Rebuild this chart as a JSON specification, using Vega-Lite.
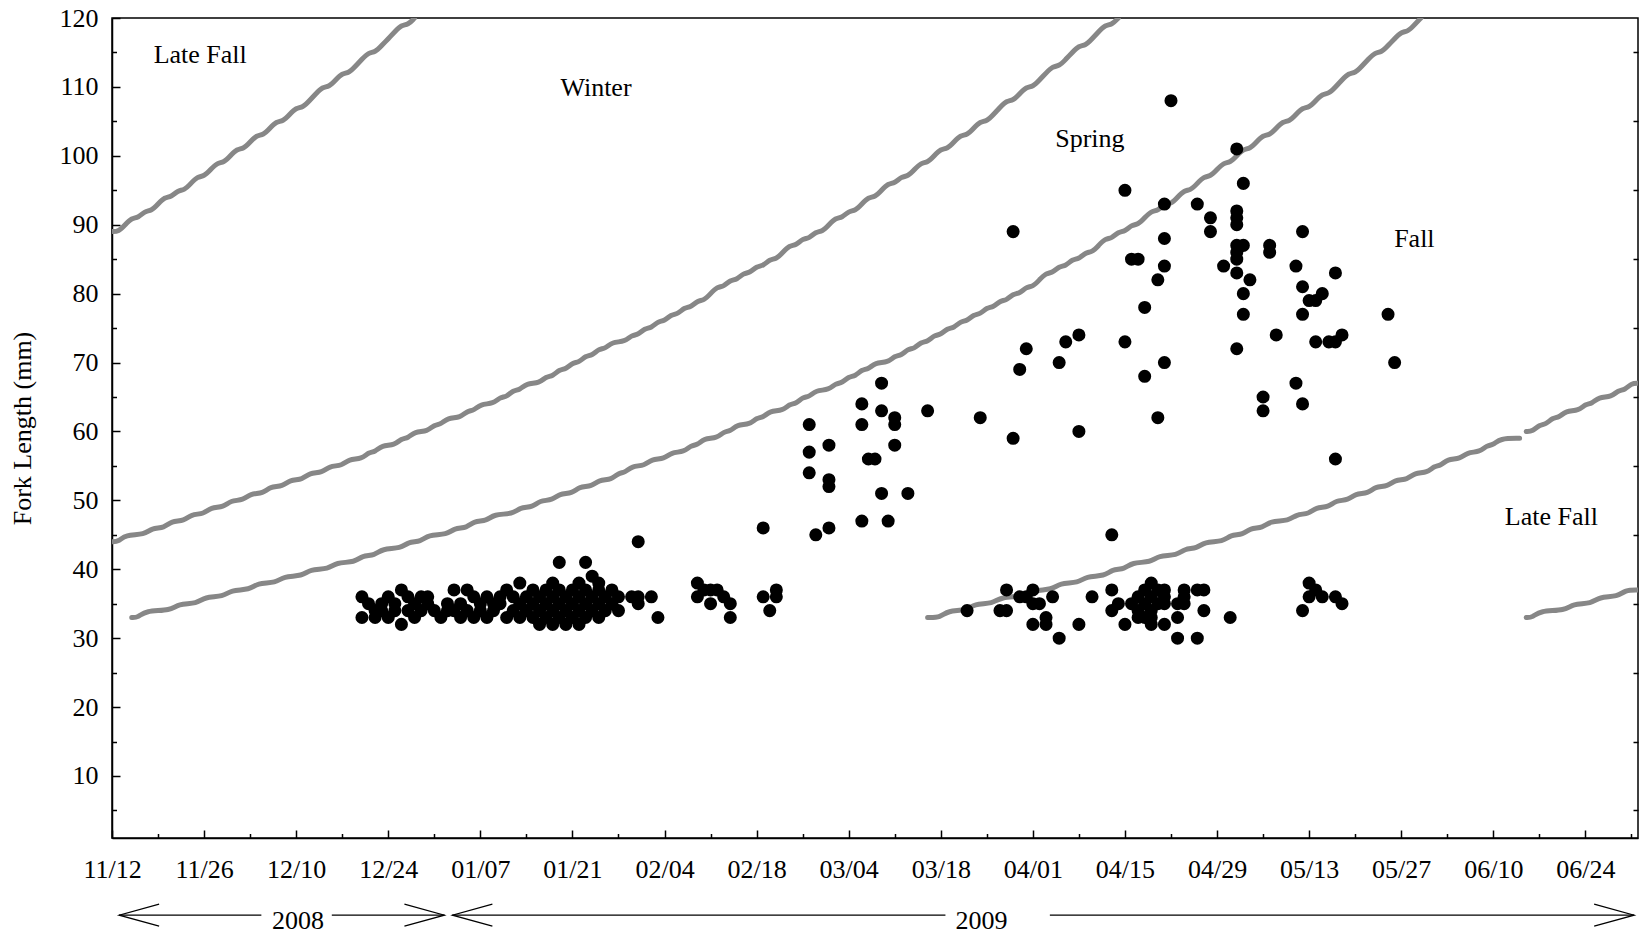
{
  "$schema": "https://vega.github.io/schema/vega-lite/v6.json",
  "width": 1526,
  "height": 820,
  "autosize": {"type": "none"},
  "padding": {"left": 112, "top": 18, "right": 3, "bottom": 99},
  "config": {
    "view": {"stroke": "black", "strokeWidth": 1.5},
    "font": "Liberation Serif",
    "text": {"font": "Liberation Serif"}
  },
  "datasets": {
    "curves": [
      {"curve":"c1","date":"2008-11-12","len":89},{"curve":"c1","date":"2008-11-13","len":89},{"curve":"c1","date":"2008-11-14","len":90},{"curve":"c1","date":"2008-11-15","len":91},{"curve":"c1","date":"2008-11-16","len":91},{"curve":"c1","date":"2008-11-17","len":92},{"curve":"c1","date":"2008-11-18","len":92},{"curve":"c1","date":"2008-11-19","len":93},{"curve":"c1","date":"2008-11-20","len":94},{"curve":"c1","date":"2008-11-21","len":94},{"curve":"c1","date":"2008-11-22","len":95},{"curve":"c1","date":"2008-11-23","len":95},{"curve":"c1","date":"2008-11-24","len":96},{"curve":"c1","date":"2008-11-25","len":97},{"curve":"c1","date":"2008-11-26","len":97},{"curve":"c1","date":"2008-11-27","len":98},{"curve":"c1","date":"2008-11-28","len":99},{"curve":"c1","date":"2008-11-29","len":99},{"curve":"c1","date":"2008-11-30","len":100},{"curve":"c1","date":"2008-12-01","len":101},{"curve":"c1","date":"2008-12-02","len":101},{"curve":"c1","date":"2008-12-03","len":102},{"curve":"c1","date":"2008-12-04","len":103},{"curve":"c1","date":"2008-12-05","len":103},{"curve":"c1","date":"2008-12-06","len":104},{"curve":"c1","date":"2008-12-07","len":105},{"curve":"c1","date":"2008-12-08","len":105},{"curve":"c1","date":"2008-12-09","len":106},{"curve":"c1","date":"2008-12-10","len":107},{"curve":"c1","date":"2008-12-11","len":107},{"curve":"c1","date":"2008-12-12","len":108},{"curve":"c1","date":"2008-12-13","len":109},{"curve":"c1","date":"2008-12-14","len":110},{"curve":"c1","date":"2008-12-15","len":110},{"curve":"c1","date":"2008-12-16","len":111},{"curve":"c1","date":"2008-12-17","len":112},{"curve":"c1","date":"2008-12-18","len":112},{"curve":"c1","date":"2008-12-19","len":113},{"curve":"c1","date":"2008-12-20","len":114},{"curve":"c1","date":"2008-12-21","len":115},{"curve":"c1","date":"2008-12-22","len":115},{"curve":"c1","date":"2008-12-23","len":116},{"curve":"c1","date":"2008-12-24","len":117},{"curve":"c1","date":"2008-12-25","len":118},{"curve":"c1","date":"2008-12-26","len":119},{"curve":"c1","date":"2008-12-27","len":119},{"curve":"c1","date":"2008-12-28","len":120},

      {"curve":"c2","date":"2008-11-12","len":44},{"curve":"c2","date":"2008-11-13","len":44},{"curve":"c2","date":"2008-11-14","len":45},{"curve":"c2","date":"2008-11-17","len":45},{"curve":"c2","date":"2008-11-18","len":46},{"curve":"c2","date":"2008-11-20","len":46},{"curve":"c2","date":"2008-11-21","len":47},{"curve":"c2","date":"2008-11-23","len":47},{"curve":"c2","date":"2008-11-24","len":48},{"curve":"c2","date":"2008-11-26","len":48},{"curve":"c2","date":"2008-11-27","len":49},{"curve":"c2","date":"2008-11-29","len":49},{"curve":"c2","date":"2008-11-30","len":50},{"curve":"c2","date":"2008-12-02","len":50},{"curve":"c2","date":"2008-12-03","len":51},{"curve":"c2","date":"2008-12-05","len":51},{"curve":"c2","date":"2008-12-06","len":52},{"curve":"c2","date":"2008-12-08","len":52},{"curve":"c2","date":"2008-12-09","len":53},{"curve":"c2","date":"2008-12-11","len":53},{"curve":"c2","date":"2008-12-12","len":54},{"curve":"c2","date":"2008-12-14","len":54},{"curve":"c2","date":"2008-12-15","len":55},{"curve":"c2","date":"2008-12-17","len":55},{"curve":"c2","date":"2008-12-18","len":56},{"curve":"c2","date":"2008-12-20","len":56},{"curve":"c2","date":"2008-12-21","len":57},{"curve":"c2","date":"2008-12-22","len":57},{"curve":"c2","date":"2008-12-23","len":58},{"curve":"c2","date":"2008-12-25","len":58},{"curve":"c2","date":"2008-12-26","len":59},{"curve":"c2","date":"2008-12-27","len":59},{"curve":"c2","date":"2008-12-28","len":60},{"curve":"c2","date":"2008-12-30","len":60},{"curve":"c2","date":"2008-12-31","len":61},{"curve":"c2","date":"2009-01-01","len":61},{"curve":"c2","date":"2009-01-02","len":62},{"curve":"c2","date":"2009-01-04","len":62},{"curve":"c2","date":"2009-01-05","len":63},{"curve":"c2","date":"2009-01-06","len":63},{"curve":"c2","date":"2009-01-07","len":64},{"curve":"c2","date":"2009-01-09","len":64},{"curve":"c2","date":"2009-01-10","len":65},{"curve":"c2","date":"2009-01-11","len":65},{"curve":"c2","date":"2009-01-12","len":66},{"curve":"c2","date":"2009-01-13","len":66},{"curve":"c2","date":"2009-01-14","len":67},{"curve":"c2","date":"2009-01-16","len":67},{"curve":"c2","date":"2009-01-17","len":68},{"curve":"c2","date":"2009-01-18","len":68},{"curve":"c2","date":"2009-01-19","len":69},{"curve":"c2","date":"2009-01-20","len":69},{"curve":"c2","date":"2009-01-21","len":70},{"curve":"c2","date":"2009-01-22","len":70},{"curve":"c2","date":"2009-01-23","len":71},{"curve":"c2","date":"2009-01-24","len":71},{"curve":"c2","date":"2009-01-25","len":72},{"curve":"c2","date":"2009-01-26","len":72},{"curve":"c2","date":"2009-01-27","len":73},{"curve":"c2","date":"2009-01-29","len":73},{"curve":"c2","date":"2009-01-30","len":74},{"curve":"c2","date":"2009-01-31","len":74},{"curve":"c2","date":"2009-02-01","len":75},{"curve":"c2","date":"2009-02-02","len":75},{"curve":"c2","date":"2009-02-03","len":76},{"curve":"c2","date":"2009-02-04","len":76},{"curve":"c2","date":"2009-02-05","len":77},{"curve":"c2","date":"2009-02-06","len":77},{"curve":"c2","date":"2009-02-07","len":78},{"curve":"c2","date":"2009-02-08","len":78},{"curve":"c2","date":"2009-02-09","len":79},{"curve":"c2","date":"2009-02-10","len":79},{"curve":"c2","date":"2009-02-11","len":80},{"curve":"c2","date":"2009-02-12","len":81},{"curve":"c2","date":"2009-02-13","len":81},{"curve":"c2","date":"2009-02-14","len":82},{"curve":"c2","date":"2009-02-15","len":82},{"curve":"c2","date":"2009-02-16","len":83},{"curve":"c2","date":"2009-02-17","len":83},{"curve":"c2","date":"2009-02-18","len":84},{"curve":"c2","date":"2009-02-19","len":84},{"curve":"c2","date":"2009-02-20","len":85},{"curve":"c2","date":"2009-02-21","len":85},{"curve":"c2","date":"2009-02-22","len":86},{"curve":"c2","date":"2009-02-23","len":87},{"curve":"c2","date":"2009-02-24","len":87},{"curve":"c2","date":"2009-02-25","len":88},{"curve":"c2","date":"2009-02-26","len":88},{"curve":"c2","date":"2009-02-27","len":89},{"curve":"c2","date":"2009-02-28","len":89},{"curve":"c2","date":"2009-03-01","len":90},{"curve":"c2","date":"2009-03-02","len":91},{"curve":"c2","date":"2009-03-03","len":91},{"curve":"c2","date":"2009-03-04","len":92},{"curve":"c2","date":"2009-03-05","len":92},{"curve":"c2","date":"2009-03-06","len":93},{"curve":"c2","date":"2009-03-07","len":94},{"curve":"c2","date":"2009-03-08","len":94},{"curve":"c2","date":"2009-03-09","len":95},{"curve":"c2","date":"2009-03-10","len":96},{"curve":"c2","date":"2009-03-11","len":96},{"curve":"c2","date":"2009-03-12","len":97},{"curve":"c2","date":"2009-03-13","len":97},{"curve":"c2","date":"2009-03-14","len":98},{"curve":"c2","date":"2009-03-15","len":99},{"curve":"c2","date":"2009-03-16","len":99},{"curve":"c2","date":"2009-03-17","len":100},{"curve":"c2","date":"2009-03-18","len":101},{"curve":"c2","date":"2009-03-19","len":101},{"curve":"c2","date":"2009-03-20","len":102},{"curve":"c2","date":"2009-03-21","len":103},{"curve":"c2","date":"2009-03-22","len":103},{"curve":"c2","date":"2009-03-23","len":104},{"curve":"c2","date":"2009-03-24","len":105},{"curve":"c2","date":"2009-03-25","len":105},{"curve":"c2","date":"2009-03-26","len":106},{"curve":"c2","date":"2009-03-27","len":107},{"curve":"c2","date":"2009-03-28","len":108},{"curve":"c2","date":"2009-03-29","len":108},{"curve":"c2","date":"2009-03-30","len":109},{"curve":"c2","date":"2009-03-31","len":110},{"curve":"c2","date":"2009-04-01","len":110},{"curve":"c2","date":"2009-04-02","len":111},{"curve":"c2","date":"2009-04-03","len":112},{"curve":"c2","date":"2009-04-04","len":113},{"curve":"c2","date":"2009-04-05","len":113},{"curve":"c2","date":"2009-04-06","len":114},{"curve":"c2","date":"2009-04-07","len":115},{"curve":"c2","date":"2009-04-08","len":116},{"curve":"c2","date":"2009-04-09","len":116},{"curve":"c2","date":"2009-04-10","len":117},{"curve":"c2","date":"2009-04-11","len":118},{"curve":"c2","date":"2009-04-12","len":119},{"curve":"c2","date":"2009-04-13","len":119},{"curve":"c2","date":"2009-04-14","len":120},

      {"curve":"c3","date":"2008-11-15","len":33},{"curve":"c3","date":"2008-11-16","len":33},{"curve":"c3","date":"2008-11-17","len":34},{"curve":"c3","date":"2008-11-21","len":34},{"curve":"c3","date":"2008-11-22","len":35},{"curve":"c3","date":"2008-11-25","len":35},{"curve":"c3","date":"2008-11-26","len":36},{"curve":"c3","date":"2008-11-29","len":36},{"curve":"c3","date":"2008-11-30","len":37},{"curve":"c3","date":"2008-12-03","len":37},{"curve":"c3","date":"2008-12-04","len":38},{"curve":"c3","date":"2008-12-07","len":38},{"curve":"c3","date":"2008-12-08","len":39},{"curve":"c3","date":"2008-12-11","len":39},{"curve":"c3","date":"2008-12-12","len":40},{"curve":"c3","date":"2008-12-15","len":40},{"curve":"c3","date":"2008-12-16","len":41},{"curve":"c3","date":"2008-12-19","len":41},{"curve":"c3","date":"2008-12-20","len":42},{"curve":"c3","date":"2008-12-22","len":42},{"curve":"c3","date":"2008-12-23","len":43},{"curve":"c3","date":"2008-12-26","len":43},{"curve":"c3","date":"2008-12-27","len":44},{"curve":"c3","date":"2008-12-29","len":44},{"curve":"c3","date":"2008-12-30","len":45},{"curve":"c3","date":"2009-01-02","len":45},{"curve":"c3","date":"2009-01-03","len":46},{"curve":"c3","date":"2009-01-05","len":46},{"curve":"c3","date":"2009-01-06","len":47},{"curve":"c3","date":"2009-01-08","len":47},{"curve":"c3","date":"2009-01-09","len":48},{"curve":"c3","date":"2009-01-12","len":48},{"curve":"c3","date":"2009-01-13","len":49},{"curve":"c3","date":"2009-01-15","len":49},{"curve":"c3","date":"2009-01-16","len":50},{"curve":"c3","date":"2009-01-18","len":50},{"curve":"c3","date":"2009-01-19","len":51},{"curve":"c3","date":"2009-01-21","len":51},{"curve":"c3","date":"2009-01-22","len":52},{"curve":"c3","date":"2009-01-24","len":52},{"curve":"c3","date":"2009-01-25","len":53},{"curve":"c3","date":"2009-01-27","len":53},{"curve":"c3","date":"2009-01-28","len":54},{"curve":"c3","date":"2009-01-29","len":54},{"curve":"c3","date":"2009-01-30","len":55},{"curve":"c3","date":"2009-02-01","len":55},{"curve":"c3","date":"2009-02-02","len":56},{"curve":"c3","date":"2009-02-04","len":56},{"curve":"c3","date":"2009-02-05","len":57},{"curve":"c3","date":"2009-02-07","len":57},{"curve":"c3","date":"2009-02-08","len":58},{"curve":"c3","date":"2009-02-09","len":58},{"curve":"c3","date":"2009-02-10","len":59},{"curve":"c3","date":"2009-02-12","len":59},{"curve":"c3","date":"2009-02-13","len":60},{"curve":"c3","date":"2009-02-14","len":60},{"curve":"c3","date":"2009-02-15","len":61},{"curve":"c3","date":"2009-02-17","len":61},{"curve":"c3","date":"2009-02-18","len":62},{"curve":"c3","date":"2009-02-19","len":62},{"curve":"c3","date":"2009-02-20","len":63},{"curve":"c3","date":"2009-02-22","len":63},{"curve":"c3","date":"2009-02-23","len":64},{"curve":"c3","date":"2009-02-24","len":64},{"curve":"c3","date":"2009-02-25","len":65},{"curve":"c3","date":"2009-02-26","len":65},{"curve":"c3","date":"2009-02-27","len":66},{"curve":"c3","date":"2009-03-01","len":66},{"curve":"c3","date":"2009-03-02","len":67},{"curve":"c3","date":"2009-03-03","len":67},{"curve":"c3","date":"2009-03-04","len":68},{"curve":"c3","date":"2009-03-05","len":68},{"curve":"c3","date":"2009-03-06","len":69},{"curve":"c3","date":"2009-03-07","len":69},{"curve":"c3","date":"2009-03-08","len":70},{"curve":"c3","date":"2009-03-10","len":70},{"curve":"c3","date":"2009-03-11","len":71},{"curve":"c3","date":"2009-03-12","len":71},{"curve":"c3","date":"2009-03-13","len":72},{"curve":"c3","date":"2009-03-14","len":72},{"curve":"c3","date":"2009-03-15","len":73},{"curve":"c3","date":"2009-03-16","len":73},{"curve":"c3","date":"2009-03-17","len":74},{"curve":"c3","date":"2009-03-18","len":74},{"curve":"c3","date":"2009-03-19","len":75},{"curve":"c3","date":"2009-03-20","len":75},{"curve":"c3","date":"2009-03-21","len":76},{"curve":"c3","date":"2009-03-22","len":76},{"curve":"c3","date":"2009-03-23","len":77},{"curve":"c3","date":"2009-03-24","len":77},{"curve":"c3","date":"2009-03-25","len":78},{"curve":"c3","date":"2009-03-26","len":78},{"curve":"c3","date":"2009-03-27","len":79},{"curve":"c3","date":"2009-03-28","len":79},{"curve":"c3","date":"2009-03-29","len":80},{"curve":"c3","date":"2009-03-30","len":80},{"curve":"c3","date":"2009-03-31","len":81},{"curve":"c3","date":"2009-04-01","len":81},{"curve":"c3","date":"2009-04-02","len":82},{"curve":"c3","date":"2009-04-03","len":83},{"curve":"c3","date":"2009-04-04","len":83},{"curve":"c3","date":"2009-04-05","len":84},{"curve":"c3","date":"2009-04-06","len":84},{"curve":"c3","date":"2009-04-07","len":85},{"curve":"c3","date":"2009-04-08","len":85},{"curve":"c3","date":"2009-04-09","len":86},{"curve":"c3","date":"2009-04-10","len":86},{"curve":"c3","date":"2009-04-11","len":87},{"curve":"c3","date":"2009-04-12","len":88},{"curve":"c3","date":"2009-04-13","len":88},{"curve":"c3","date":"2009-04-14","len":89},{"curve":"c3","date":"2009-04-15","len":89},{"curve":"c3","date":"2009-04-16","len":90},{"curve":"c3","date":"2009-04-17","len":90},{"curve":"c3","date":"2009-04-18","len":91},{"curve":"c3","date":"2009-04-19","len":92},{"curve":"c3","date":"2009-04-20","len":92},{"curve":"c3","date":"2009-04-21","len":93},{"curve":"c3","date":"2009-04-22","len":93},{"curve":"c3","date":"2009-04-23","len":94},{"curve":"c3","date":"2009-04-24","len":95},{"curve":"c3","date":"2009-04-25","len":95},{"curve":"c3","date":"2009-04-26","len":96},{"curve":"c3","date":"2009-04-27","len":97},{"curve":"c3","date":"2009-04-28","len":97},{"curve":"c3","date":"2009-04-29","len":98},{"curve":"c3","date":"2009-04-30","len":99},{"curve":"c3","date":"2009-05-01","len":99},{"curve":"c3","date":"2009-05-02","len":100},{"curve":"c3","date":"2009-05-03","len":101},{"curve":"c3","date":"2009-05-04","len":101},{"curve":"c3","date":"2009-05-05","len":102},{"curve":"c3","date":"2009-05-06","len":103},{"curve":"c3","date":"2009-05-07","len":103},{"curve":"c3","date":"2009-05-08","len":104},{"curve":"c3","date":"2009-05-09","len":105},{"curve":"c3","date":"2009-05-10","len":105},{"curve":"c3","date":"2009-05-11","len":106},{"curve":"c3","date":"2009-05-12","len":107},{"curve":"c3","date":"2009-05-13","len":107},{"curve":"c3","date":"2009-05-14","len":108},{"curve":"c3","date":"2009-05-15","len":109},{"curve":"c3","date":"2009-05-16","len":109},{"curve":"c3","date":"2009-05-17","len":110},{"curve":"c3","date":"2009-05-18","len":111},{"curve":"c3","date":"2009-05-19","len":112},{"curve":"c3","date":"2009-05-20","len":112},{"curve":"c3","date":"2009-05-21","len":113},{"curve":"c3","date":"2009-05-22","len":114},{"curve":"c3","date":"2009-05-23","len":115},{"curve":"c3","date":"2009-05-24","len":115},{"curve":"c3","date":"2009-05-25","len":116},{"curve":"c3","date":"2009-05-26","len":117},{"curve":"c3","date":"2009-05-27","len":118},{"curve":"c3","date":"2009-05-28","len":118},{"curve":"c3","date":"2009-05-29","len":119},{"curve":"c3","date":"2009-05-30","len":120},

      {"curve":"c4a","date":"2009-03-16","len":33},{"curve":"c4a","date":"2009-03-18","len":33},{"curve":"c4a","date":"2009-03-19","len":34},{"curve":"c4a","date":"2009-03-22","len":34},{"curve":"c4a","date":"2009-03-23","len":35},{"curve":"c4a","date":"2009-03-26","len":35},{"curve":"c4a","date":"2009-03-27","len":36},{"curve":"c4a","date":"2009-03-31","len":36},{"curve":"c4a","date":"2009-04-01","len":37},{"curve":"c4a","date":"2009-04-04","len":37},{"curve":"c4a","date":"2009-04-05","len":38},{"curve":"c4a","date":"2009-04-08","len":38},{"curve":"c4a","date":"2009-04-09","len":39},{"curve":"c4a","date":"2009-04-12","len":39},{"curve":"c4a","date":"2009-04-13","len":40},{"curve":"c4a","date":"2009-04-15","len":40},{"curve":"c4a","date":"2009-04-16","len":41},{"curve":"c4a","date":"2009-04-19","len":41},{"curve":"c4a","date":"2009-04-20","len":42},{"curve":"c4a","date":"2009-04-23","len":42},{"curve":"c4a","date":"2009-04-24","len":43},{"curve":"c4a","date":"2009-04-26","len":43},{"curve":"c4a","date":"2009-04-27","len":44},{"curve":"c4a","date":"2009-04-30","len":44},{"curve":"c4a","date":"2009-05-01","len":45},{"curve":"c4a","date":"2009-05-03","len":45},{"curve":"c4a","date":"2009-05-04","len":46},{"curve":"c4a","date":"2009-05-06","len":46},{"curve":"c4a","date":"2009-05-07","len":47},{"curve":"c4a","date":"2009-05-10","len":47},{"curve":"c4a","date":"2009-05-11","len":48},{"curve":"c4a","date":"2009-05-13","len":48},{"curve":"c4a","date":"2009-05-14","len":49},{"curve":"c4a","date":"2009-05-16","len":49},{"curve":"c4a","date":"2009-05-17","len":50},{"curve":"c4a","date":"2009-05-19","len":50},{"curve":"c4a","date":"2009-05-20","len":51},{"curve":"c4a","date":"2009-05-22","len":51},{"curve":"c4a","date":"2009-05-23","len":52},{"curve":"c4a","date":"2009-05-25","len":52},{"curve":"c4a","date":"2009-05-26","len":53},{"curve":"c4a","date":"2009-05-28","len":53},{"curve":"c4a","date":"2009-05-29","len":54},{"curve":"c4a","date":"2009-05-31","len":54},{"curve":"c4a","date":"2009-06-01","len":55},{"curve":"c4a","date":"2009-06-02","len":55},{"curve":"c4a","date":"2009-06-03","len":56},{"curve":"c4a","date":"2009-06-05","len":56},{"curve":"c4a","date":"2009-06-06","len":57},{"curve":"c4a","date":"2009-06-08","len":57},{"curve":"c4a","date":"2009-06-09","len":58},{"curve":"c4a","date":"2009-06-10","len":58},{"curve":"c4a","date":"2009-06-11","len":59},{"curve":"c4a","date":"2009-06-14","len":59},

      {"curve":"c4b","date":"2009-06-15","len":60},{"curve":"c4b","date":"2009-06-16","len":60},{"curve":"c4b","date":"2009-06-17","len":61},{"curve":"c4b","date":"2009-06-18","len":61},{"curve":"c4b","date":"2009-06-19","len":62},{"curve":"c4b","date":"2009-06-20","len":62},{"curve":"c4b","date":"2009-06-21","len":63},{"curve":"c4b","date":"2009-06-23","len":63},{"curve":"c4b","date":"2009-06-24","len":64},{"curve":"c4b","date":"2009-06-25","len":64},{"curve":"c4b","date":"2009-06-26","len":65},{"curve":"c4b","date":"2009-06-28","len":65},{"curve":"c4b","date":"2009-06-29","len":66},{"curve":"c4b","date":"2009-06-30","len":66},{"curve":"c4b","date":"2009-07-01","len":67},{"curve":"c4b","date":"2009-07-02","len":67},

      {"curve":"c5","date":"2009-06-15","len":33},{"curve":"c5","date":"2009-06-16","len":33},{"curve":"c5","date":"2009-06-17","len":34},{"curve":"c5","date":"2009-06-21","len":34},{"curve":"c5","date":"2009-06-22","len":35},{"curve":"c5","date":"2009-06-25","len":35},{"curve":"c5","date":"2009-06-26","len":36},{"curve":"c5","date":"2009-06-29","len":36},{"curve":"c5","date":"2009-06-30","len":37},{"curve":"c5","date":"2009-07-02","len":37}
    ],
    "fish": [
      {"date":"2008-12-20","len":36},{"date":"2008-12-20","len":33},{"date":"2008-12-21","len":35},{"date":"2008-12-22","len":34},{"date":"2008-12-22","len":33},{"date":"2008-12-23","len":35},{"date":"2008-12-23","len":34},{"date":"2008-12-24","len":36},{"date":"2008-12-24","len":33},{"date":"2008-12-25","len":35},{"date":"2008-12-25","len":34},{"date":"2008-12-26","len":37},{"date":"2008-12-26","len":32},{"date":"2008-12-27","len":36},{"date":"2008-12-27","len":34},{"date":"2008-12-28","len":35},{"date":"2008-12-28","len":33},{"date":"2008-12-29","len":36},{"date":"2008-12-29","len":34},{"date":"2008-12-30","len":36},{"date":"2008-12-30","len":35},{"date":"2008-12-31","len":34},{"date":"2009-01-01","len":33},{"date":"2009-01-02","len":35},{"date":"2009-01-02","len":34},{"date":"2009-01-03","len":37},{"date":"2009-01-03","len":34},{"date":"2009-01-04","len":35},{"date":"2009-01-04","len":33},{"date":"2009-01-05","len":37},{"date":"2009-01-05","len":34},{"date":"2009-01-06","len":36},{"date":"2009-01-06","len":33},{"date":"2009-01-07","len":35},{"date":"2009-01-07","len":34},{"date":"2009-01-08","len":36},{"date":"2009-01-08","len":33},{"date":"2009-01-09","len":35},{"date":"2009-01-09","len":34},{"date":"2009-01-10","len":36},{"date":"2009-01-10","len":35},{"date":"2009-01-11","len":37},{"date":"2009-01-11","len":33},{"date":"2009-01-12","len":36},{"date":"2009-01-12","len":34},{"date":"2009-01-13","len":38},{"date":"2009-01-13","len":35},{"date":"2009-01-13","len":33},{"date":"2009-01-14","len":36},{"date":"2009-01-14","len":34},{"date":"2009-01-15","len":37},{"date":"2009-01-15","len":35},{"date":"2009-01-15","len":33},{"date":"2009-01-16","len":36},{"date":"2009-01-16","len":34},{"date":"2009-01-16","len":32},{"date":"2009-01-17","len":37},{"date":"2009-01-17","len":35},{"date":"2009-01-17","len":33},{"date":"2009-01-18","len":38},{"date":"2009-01-18","len":36},{"date":"2009-01-18","len":34},{"date":"2009-01-18","len":32},{"date":"2009-01-19","len":41},{"date":"2009-01-19","len":37},{"date":"2009-01-19","len":35},{"date":"2009-01-19","len":33},{"date":"2009-01-20","len":36},{"date":"2009-01-20","len":34},{"date":"2009-01-20","len":32},{"date":"2009-01-21","len":37},{"date":"2009-01-21","len":35},{"date":"2009-01-21","len":33},{"date":"2009-01-22","len":38},{"date":"2009-01-22","len":36},{"date":"2009-01-22","len":34},{"date":"2009-01-22","len":32},{"date":"2009-01-23","len":41},{"date":"2009-01-23","len":37},{"date":"2009-01-23","len":35},{"date":"2009-01-23","len":33},{"date":"2009-01-24","len":39},{"date":"2009-01-24","len":36},{"date":"2009-01-24","len":34},{"date":"2009-01-25","len":38},{"date":"2009-01-25","len":37},{"date":"2009-01-25","len":35},{"date":"2009-01-25","len":33},{"date":"2009-01-26","len":36},{"date":"2009-01-26","len":34},{"date":"2009-01-27","len":35},{"date":"2009-01-27","len":37},{"date":"2009-01-28","len":36},{"date":"2009-01-28","len":34},
      {"date":"2009-01-30","len":36},{"date":"2009-01-31","len":36},{"date":"2009-01-31","len":35},{"date":"2009-01-31","len":44},{"date":"2009-02-02","len":36},{"date":"2009-02-03","len":33},
      {"date":"2009-02-09","len":38},{"date":"2009-02-09","len":36},{"date":"2009-02-10","len":37},{"date":"2009-02-11","len":37},{"date":"2009-02-12","len":37},{"date":"2009-02-11","len":35},{"date":"2009-02-13","len":36},{"date":"2009-02-14","len":35},{"date":"2009-02-14","len":33},
      {"date":"2009-02-19","len":36},{"date":"2009-02-21","len":37},{"date":"2009-02-21","len":36},{"date":"2009-02-20","len":34},{"date":"2009-02-19","len":46},
      {"date":"2009-03-09","len":67},{"date":"2009-03-06","len":64},{"date":"2009-03-09","len":63},{"date":"2009-03-11","len":62},{"date":"2009-03-16","len":63},{"date":"2009-03-11","len":61},{"date":"2009-02-26","len":61},{"date":"2009-03-06","len":61},{"date":"2009-03-01","len":58},{"date":"2009-02-26","len":57},{"date":"2009-03-11","len":58},{"date":"2009-03-07","len":56},{"date":"2009-03-08","len":56},{"date":"2009-02-26","len":54},{"date":"2009-03-01","len":53},{"date":"2009-03-01","len":52},{"date":"2009-03-09","len":51},{"date":"2009-03-13","len":51},{"date":"2009-03-06","len":47},{"date":"2009-03-10","len":47},{"date":"2009-03-01","len":46},{"date":"2009-02-27","len":45},
      {"date":"2009-04-22","len":108},{"date":"2009-05-02","len":101},{"date":"2009-04-15","len":95},{"date":"2009-03-29","len":89},{"date":"2009-04-21","len":93},{"date":"2009-05-03","len":96},{"date":"2009-04-26","len":93},{"date":"2009-04-28","len":91},{"date":"2009-04-28","len":89},{"date":"2009-05-02","len":92},{"date":"2009-05-02","len":91},{"date":"2009-05-02","len":90},{"date":"2009-05-02","len":87},{"date":"2009-05-03","len":87},{"date":"2009-05-02","len":86},{"date":"2009-05-02","len":85},{"date":"2009-04-30","len":84},{"date":"2009-05-02","len":83},{"date":"2009-05-04","len":82},{"date":"2009-05-03","len":80},{"date":"2009-05-03","len":77},{"date":"2009-05-07","len":87},{"date":"2009-05-07","len":86},{"date":"2009-05-12","len":89},{"date":"2009-05-11","len":84},{"date":"2009-05-12","len":81},{"date":"2009-05-13","len":79},{"date":"2009-05-14","len":79},{"date":"2009-05-15","len":80},{"date":"2009-05-12","len":77},{"date":"2009-05-17","len":83},{"date":"2009-05-08","len":74},{"date":"2009-05-14","len":73},{"date":"2009-05-16","len":73},{"date":"2009-05-17","len":73},{"date":"2009-05-18","len":74},{"date":"2009-05-02","len":72},{"date":"2009-04-16","len":85},{"date":"2009-04-17","len":85},{"date":"2009-04-21","len":88},{"date":"2009-04-21","len":84},{"date":"2009-04-20","len":82},{"date":"2009-04-18","len":78},{"date":"2009-04-15","len":73},{"date":"2009-04-21","len":70},{"date":"2009-04-18","len":68},{"date":"2009-03-31","len":72},{"date":"2009-03-30","len":69},{"date":"2009-04-06","len":73},{"date":"2009-04-08","len":74},{"date":"2009-04-05","len":70},{"date":"2009-05-11","len":67},{"date":"2009-05-25","len":77},{"date":"2009-05-26","len":70},{"date":"2009-05-12","len":64},{"date":"2009-05-17","len":56},{"date":"2009-03-24","len":62},{"date":"2009-03-29","len":59},{"date":"2009-04-08","len":60},{"date":"2009-04-20","len":62},{"date":"2009-05-06","len":65},{"date":"2009-05-06","len":63},{"date":"2009-04-13","len":45},
      {"date":"2009-03-22","len":34},{"date":"2009-03-28","len":37},{"date":"2009-04-01","len":37},{"date":"2009-03-27","len":34},{"date":"2009-03-28","len":34},{"date":"2009-03-30","len":36},{"date":"2009-03-31","len":36},{"date":"2009-04-01","len":35},{"date":"2009-04-02","len":35},{"date":"2009-04-04","len":36},{"date":"2009-04-03","len":33},{"date":"2009-04-01","len":32},{"date":"2009-04-03","len":32},{"date":"2009-04-05","len":30},{"date":"2009-04-08","len":32},{"date":"2009-04-10","len":36},{"date":"2009-04-13","len":37},{"date":"2009-04-14","len":35},{"date":"2009-04-13","len":34},{"date":"2009-04-19","len":38},{"date":"2009-04-16","len":35},{"date":"2009-04-17","len":36},{"date":"2009-04-18","len":37},{"date":"2009-04-19","len":36},{"date":"2009-04-20","len":37},{"date":"2009-04-21","len":37},{"date":"2009-04-21","len":36},{"date":"2009-04-17","len":34},{"date":"2009-04-18","len":35},{"date":"2009-04-19","len":34},{"date":"2009-04-20","len":35},{"date":"2009-04-21","len":35},{"date":"2009-04-18","len":33},{"date":"2009-04-19","len":33},{"date":"2009-04-15","len":32},{"date":"2009-04-17","len":33},{"date":"2009-04-19","len":32},{"date":"2009-04-21","len":32},{"date":"2009-04-24","len":37},{"date":"2009-04-26","len":37},{"date":"2009-04-27","len":37},{"date":"2009-04-23","len":35},{"date":"2009-04-24","len":35},{"date":"2009-04-24","len":36},{"date":"2009-04-27","len":34},{"date":"2009-04-23","len":33},{"date":"2009-04-23","len":30},{"date":"2009-04-26","len":30},{"date":"2009-05-01","len":33},{"date":"2009-05-13","len":38},{"date":"2009-05-14","len":37},{"date":"2009-05-15","len":36},{"date":"2009-05-13","len":36},{"date":"2009-05-12","len":34},{"date":"2009-05-17","len":36},{"date":"2009-05-18","len":35}
    ],
    "seasons": [
      {"label":"Late Fall","date":"2008-11-25T10:00:00Z","len":114.7},
      {"label":"Winter","date":"2009-01-24T14:00:00Z","len":109.8},
      {"label":"Spring","date":"2009-04-09T16:00:00Z","len":102.4},
      {"label":"Fall","date":"2009-05-29T00:00:00Z","len":88.0},
      {"label":"Late Fall","date":"2009-06-18T20:00:00Z","len":47.6}
    ],
    "years": [
      {"year":"2008","start":"2008-11-13T02:00:00Z","gapStart":"2008-12-04T17:00:00Z","mid":"2008-12-10T07:00:00Z","gapEnd":"2008-12-15T10:00:00Z","end":"2009-01-01T13:00:00Z"},
      {"year":"2009","start":"2009-01-02T18:00:00Z","gapStart":"2009-03-18T17:00:00Z","mid":"2009-03-24T05:00:00Z","gapEnd":"2009-04-03T14:00:00Z","end":"2009-07-01T10:00:00Z"}
    ]
  },
  "layer": [
    {
      "data": {"name": "curves"},
      "mark": {"type": "line", "color": "#878787", "strokeWidth": 5, "strokeCap": "round", "strokeJoin": "round", "interpolate": "basis", "clip": true},
      "encoding": {
        "x": {
          "field": "date", "type": "temporal",
          "scale": {"type": "utc", "domain": [{"year": 2008, "month": 11, "date": 12, "utc": true}, {"year": 2009, "month": 7, "date": 2, "utc": true}]},
          "axis": {
            "orient": "bottom", "title": null, "grid": false,
            "values": [1226448000000,1227657600000,1228867200000,1230076800000,1231286400000,1232496000000,1233705600000,1234915200000,1236124800000,1237334400000,1238544000000,1239753600000,1240963200000,1242172800000,1243382400000,1244592000000,1245801600000],
            "labelExpr": "utcFormat(datum.value, '%m/%d')",
            "tickSize": -8,
            "labelPadding": 26,
            "labelFlush": false, "labelOverlap": false, "labelBound": false,
            "domainColor": "black", "domainWidth": 1.5, "tickColor": "black", "tickWidth": 1.5,
            "labelFont": "Liberation Serif", "labelFontSize": 26, "labelColor": "black"
          }
        },
        "y": {
          "field": "len", "type": "quantitative",
          "scale": {"domain": [1, 120]},
          "axis": {
            "orient": "left",
            "title": "Fork Length (mm)",
            "titleFont": "Liberation Serif", "titleFontSize": 26, "titleFontWeight": "normal", "titleColor": "black", "titlePadding": 24,
            "grid": false,
            "values": [10,20,30,40,50,60,70,80,90,100,110,120],
            "tickSize": -8,
            "labelPadding": 22,
            "labelOverlap": false, "labelBound": false, "labelFlush": false,
            "domainColor": "black", "domainWidth": 1.5, "tickColor": "black", "tickWidth": 1.5,
            "labelFont": "Liberation Serif", "labelFontSize": 26, "labelColor": "black"
          }
        },
        "detail": {"field": "curve"}
      }
    },
    {
      "data": {"name": "fish"},
      "mark": {"type": "point", "filled": true, "color": "black", "opacity": 1, "size": 170, "strokeWidth": 0},
      "encoding": {
        "x": {
          "field": "date", "type": "temporal",
          "scale": {"type": "utc", "domain": [{"year": 2008, "month": 11, "date": 12, "utc": true}, {"year": 2009, "month": 7, "date": 2, "utc": true}]},
          "axis": {
            "orient": "bottom", "title": null, "grid": false, "labels": false, "domain": false,
            "values": [1227052800000,1228262400000,1229472000000,1230681600000,1231891200000,1233100800000,1234310400000,1235520000000,1236729600000,1237939200000,1239148800000,1240358400000,1241568000000,1242777600000,1243987200000,1245196800000,1246406400000],
            "tickSize": -4.5, "tickColor": "black", "tickWidth": 1.5
          }
        },
        "y": {
          "field": "len", "type": "quantitative",
          "scale": {"domain": [1, 120]},
          "axis": {
            "orient": "left", "title": null, "grid": false, "labels": false, "domain": false,
            "values": [5,15,25,35,45,55,65,75,85,95,105,115],
            "tickSize": -4.5, "tickColor": "black", "tickWidth": 1.5
          }
        }
      }
    },
    {
      "data": {"name": "seasons"},
      "mark": {"type": "text", "font": "Liberation Serif", "fontSize": 26, "color": "black", "align": "center", "baseline": "middle"},
      "encoding": {
        "x": {"field": "date", "type": "temporal", "scale": {"type": "utc", "domain": [{"year": 2008, "month": 11, "date": 12, "utc": true}, {"year": 2009, "month": 7, "date": 2, "utc": true}]}, "axis": null},
        "y": {
          "field": "len", "type": "quantitative",
          "scale": {"domain": [1, 120]},
          "axis": {"orient": "right", "title": null, "labels": false, "domain": false, "grid": false,
                   "values": [5,15,25,35,45,55,65,75,85,95,105,115],
                   "tickSize": -5, "tickColor": "black", "tickWidth": 1.5}
        },
        "text": {"field": "label"}
      }
    },
    {
      "data": {"name": "years"},
      "mark": {"type": "rule", "color": "black", "strokeWidth": 1.2},
      "encoding": {
        "x": {"field": "start", "type": "temporal", "scale": {"type": "utc", "domain": [{"year": 2008, "month": 11, "date": 12, "utc": true}, {"year": 2009, "month": 7, "date": 2, "utc": true}]}, "axis": null},
        "x2": {"field": "gapStart"},
        "y": {"datum": -10.2, "type": "quantitative", "scale": {"domain": [1, 120]}, "axis": null}
      }
    },
    {
      "data": {"name": "years"},
      "mark": {"type": "rule", "color": "black", "strokeWidth": 1.2},
      "encoding": {
        "x": {"field": "gapEnd", "type": "temporal", "scale": {"type": "utc", "domain": [{"year": 2008, "month": 11, "date": 12, "utc": true}, {"year": 2009, "month": 7, "date": 2, "utc": true}]}, "axis": null},
        "x2": {"field": "end"},
        "y": {"datum": -10.2, "type": "quantitative", "scale": {"domain": [1, 120]}, "axis": null}
      }
    },
    {
      "data": {"name": "years"},
      "mark": {"type": "point", "shape": "M2,-0.55L0,0L2,0.55", "filled": false, "color": "black", "opacity": 1, "size": 1600, "strokeWidth": 1.2},
      "encoding": {
        "x": {"field": "start", "type": "temporal", "scale": {"type": "utc", "domain": [{"year": 2008, "month": 11, "date": 12, "utc": true}, {"year": 2009, "month": 7, "date": 2, "utc": true}]}, "axis": null},
        "y": {"datum": -10.2, "type": "quantitative", "scale": {"domain": [1, 120]}, "axis": null}
      }
    },
    {
      "data": {"name": "years"},
      "mark": {"type": "point", "shape": "M-2,-0.55L0,0L-2,0.55", "filled": false, "color": "black", "opacity": 1, "size": 1600, "strokeWidth": 1.2},
      "encoding": {
        "x": {"field": "end", "type": "temporal", "scale": {"type": "utc", "domain": [{"year": 2008, "month": 11, "date": 12, "utc": true}, {"year": 2009, "month": 7, "date": 2, "utc": true}]}, "axis": null},
        "y": {"datum": -10.2, "type": "quantitative", "scale": {"domain": [1, 120]}, "axis": null}
      }
    },
    {
      "data": {"name": "years"},
      "mark": {"type": "text", "font": "Liberation Serif", "fontSize": 26, "color": "black", "align": "center", "baseline": "middle"},
      "encoding": {
        "x": {"field": "mid", "type": "temporal", "scale": {"type": "utc", "domain": [{"year": 2008, "month": 11, "date": 12, "utc": true}, {"year": 2009, "month": 7, "date": 2, "utc": true}]}, "axis": null},
        "y": {"datum": -11.1, "type": "quantitative", "scale": {"domain": [1, 120]}, "axis": null},
        "text": {"field": "year"}
      }
    }
  ],
  "resolve": {"axis": {"x": "independent", "y": "independent"}}
}
